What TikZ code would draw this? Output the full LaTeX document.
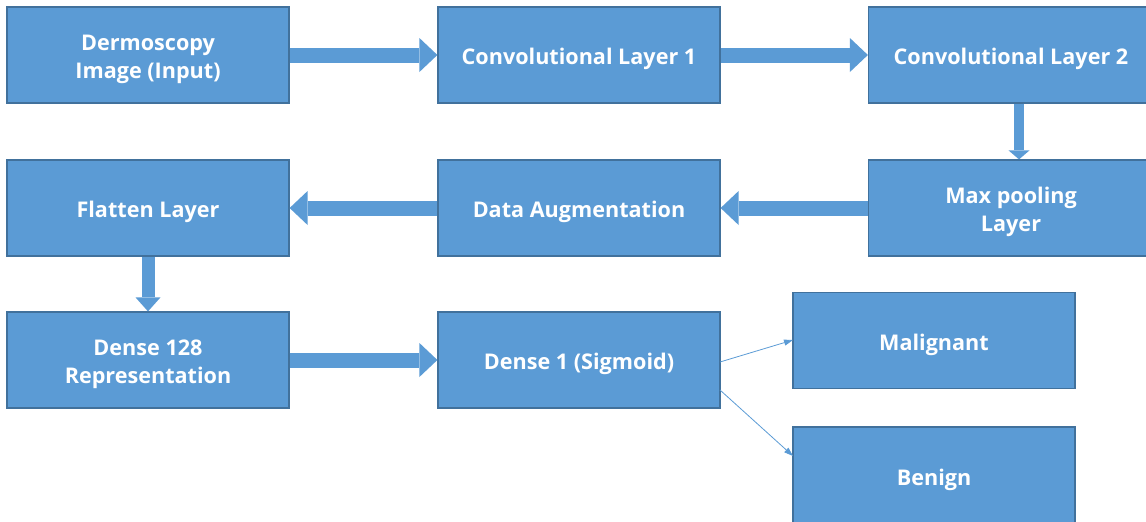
\documentclass[tikz,border=0pt]{standalone}
\usepackage{fontspec}
\setmainfont{Open Sans}
\usetikzlibrary{arrows.meta}
\definecolor{boxfill}{HTML}{5B9BD5}
\definecolor{boxline}{HTML}{41719C}
\begin{document}
\begin{tikzpicture}[x=1pt,y=-1pt,
  box/.style={draw=boxline, line width=1.2pt, fill=boxfill, minimum width=282pt, minimum height=96pt,
    text=white, font=\fontsize{21.6}{28}\selectfont\bfseries, align=center, inner sep=0pt,
    execute at begin node={\rule{0pt}{25pt}}},
  twoline/.style={execute at begin node={\rule{0pt}{52pt}}},
  bigarrow/.style={draw=boxfill, line width=15pt, -{Triangle[length=18pt,width=34pt,line width=0pt]}},
  smallarrow/.style={draw=boxfill, line width=10pt, -{Triangle[length=9pt,width=21pt,line width=0pt]}},
  thinarrow/.style={draw=boxfill, line width=0.8pt, -{Triangle[length=9pt,width=6pt]}}
]
\useasboundingbox (0,0) rectangle (1146,522);
\node[box, twoline] (inp) at (148,55) {Dermoscopy\\Image (Input)};
\node[box] (c1) at (579,55) {Convolutional Layer 1};
\node[box, minimum width=285pt] (c2) at (1011,55) {Convolutional Layer 2};
\node[box, twoline, minimum width=285pt] (mp) at (1011,208) {Max pooling\\Layer};
\node[box] (da) at (579,208) {Data Augmentation};
\node[box] (fl) at (148,208) {Flatten Layer};
\node[box, twoline] (d128) at (148,360) {Dense 128\\Representation};
\node[box] (d1) at (579,360) {Dense 1 (Sigmoid)};
\node[box] (mal) at (934,340.5) {Malignant};
\node[box, minimum height=98pt] (ben) at (934,476) {Benign};
\coordinate (a1) at (720,362);
\coordinate (a2) at (720,390);
\coordinate (m1) at (793,340);
\coordinate (b1) at (793,456);
\draw[bigarrow] (inp.east) -- (c1.west);
\draw[bigarrow] (c1.east) -- (c2.west);
\draw[smallarrow] ([xshift=8pt]c2.south) -- ([xshift=8pt]mp.north);
\draw[bigarrow] (mp.west) -- (da.east);
\draw[bigarrow] (da.west) -- (fl.east);
\draw[bigarrow, line width=13pt, -{Triangle[length=14pt,width=25pt,line width=0pt]}] (fl.south) -- (d128.north);
\draw[bigarrow] (d128.east) -- (d1.west);
\draw[thinarrow] (a1) -- (m1);
\draw[thinarrow] (a2) -- (b1);
\end{tikzpicture}
\end{document}
